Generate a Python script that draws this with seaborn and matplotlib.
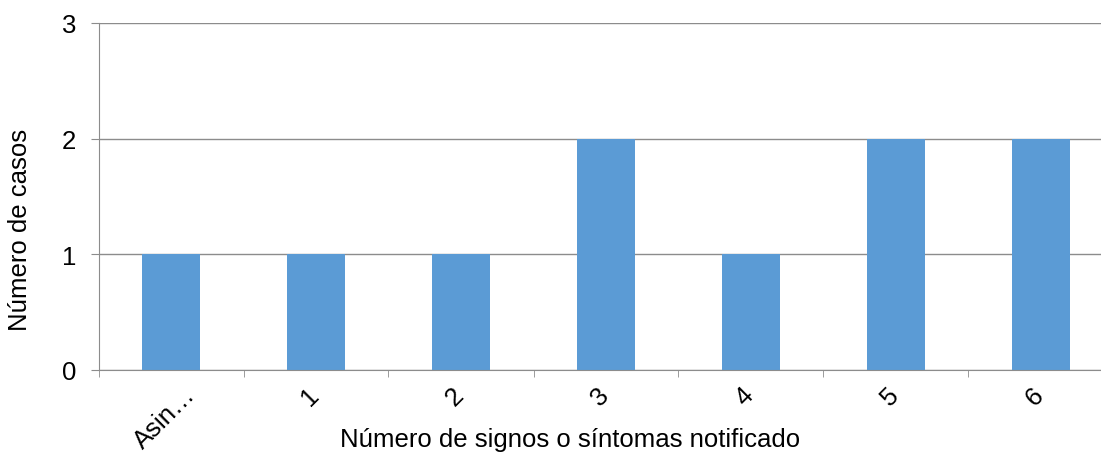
import matplotlib
matplotlib.use("Agg")
import matplotlib.pyplot as plt
import matplotlib.transforms as mtransforms
import seaborn as sns
import pandas as pd

categorias = ["Asin…", "1", "2", "3", "4", "5", "6"]
casos = [1, 1, 1, 2, 1, 2, 2]

sns.set_style("white")
plt.rcParams["font.family"] = ["Liberation Sans", "DejaVu Sans"]
plt.rcParams["text.color"] = "black"
plt.rcParams["xtick.color"] = "black"
plt.rcParams["ytick.color"] = "black"
plt.rcParams["axes.labelcolor"] = "black"

df = pd.DataFrame({"cat": categorias, "casos": casos})

W, H = 1101, 456
fig = plt.figure(figsize=(W / 100, H / 100), dpi=100)
ax = fig.add_axes([98.5 / W, 1 - 371 / H, 1015 / W, 347 / H])

sns.barplot(data=df, x="cat", y="casos", color="#5B9BD5", width=0.4,
            saturation=1, linewidth=0, ax=ax, zorder=3)

ax.set_ylim(0, 3)
ax.set_xlim(-0.5, len(categorias) - 0.5)
ax.set_yticks([0, 1, 2, 3])
ax.yaxis.grid(True, color="#8C8C8C", linewidth=1, zorder=0)
ax.set_axisbelow(True)

for s in ["top", "right"]:
    ax.spines[s].set_visible(False)
for s in ["left", "bottom"]:
    ax.spines[s].set_color("#8C8C8C")
    ax.spines[s].set_zorder(4)

gris = "#8C8C8C"
# category-boundary ticks on x, outward ticks on y
ax.set_xticks([i - 0.5 for i in range(len(categorias) + 1)], minor=True)
ax.tick_params(axis="x", which="minor", length=5, color=gris, direction="out", bottom=True)
ax.tick_params(axis="x", which="major", length=0, pad=9, labelsize=18.5)
ax.tick_params(axis="y", which="major", length=6, color=gris, direction="out",
               left=True, labelsize=18.5, pad=10)

ax.set_xticks(range(len(categorias)))
ax.set_xticklabels(categorias, rotation=45, ha="center", va="top", rotation_mode="default")
shift = mtransforms.ScaledTranslation(-6 / 100, 0, fig.dpi_scale_trans)
for lbl in ax.get_xticklabels():
    lbl.set_transform(lbl.get_transform() + shift)

ax.set_xlabel("Número de signos o síntomas notificado", fontsize=18.5, va="center", ha="center")
ax.xaxis.set_label_coords((570 - 98.5) / 1015, (371 - 440) / 347)
ax.set_ylabel("Número de casos", fontsize=18.5, va="center", ha="center")
ax.yaxis.set_label_coords((20 - 98.5) / 1015, (371 - 230) / 347)

fig.savefig("out.png", dpi=100)
